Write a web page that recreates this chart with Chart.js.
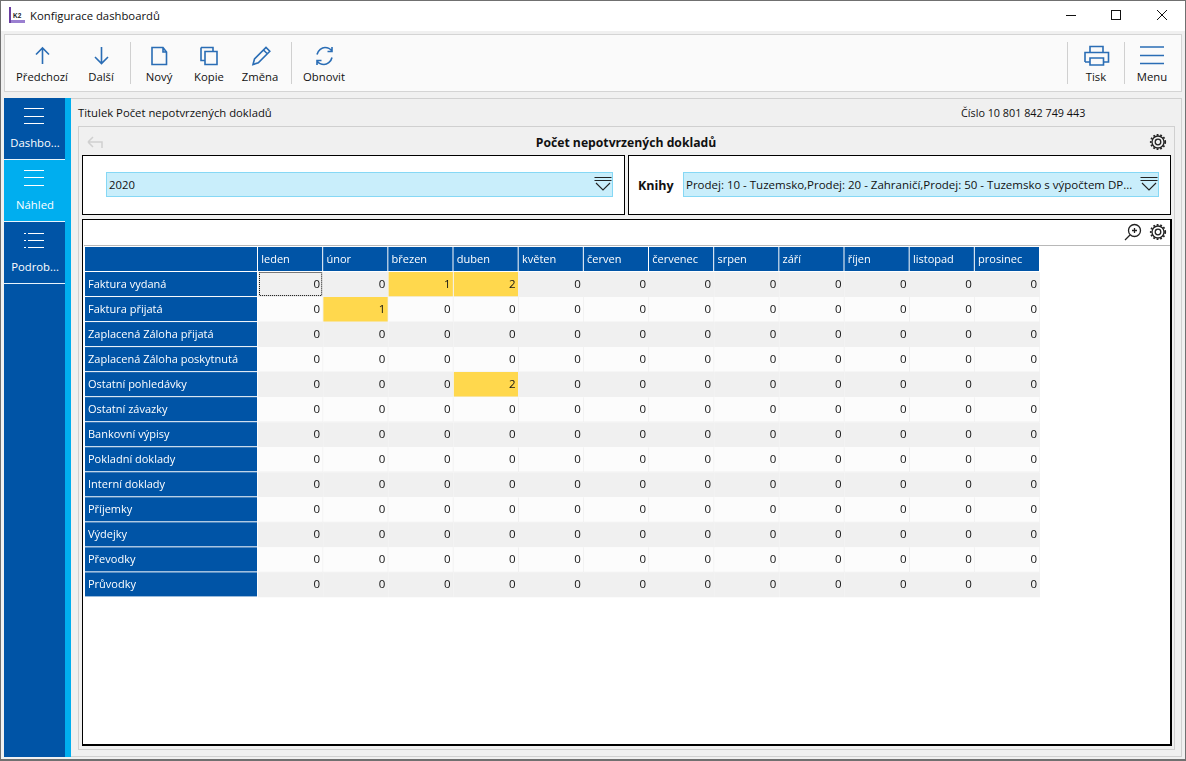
<!DOCTYPE html>
<html lang="cs">
<head>
<meta charset="utf-8">
<title>Konfigurace dashboardů</title>
<script src="https://cdn.jsdelivr.net/npm/chart.js@4"></script>
<style>
* { box-sizing: border-box; }
html, body { margin: 0; padding: 0; }
body { width: 1186px; height: 761px; position: relative; overflow: hidden; background: #f0f0f0; font: 11.3px "Open Sans", sans-serif; color: #111; }
.box, .t, svg, canvas { position: absolute; }
.t { white-space: nowrap; line-height: 16px; }
.c { transform: translateX(-50%); text-align: center; }
.ico { fill: none; stroke: #2a6db5; stroke-width: 1.6; }
.blk { fill: none; stroke: #222; stroke-width: 1.3; }
.wl { background: #fff; height: 1px; width: 20px; left: 24px; position: absolute; }
</style>
</head>
<body>
<div class="box" style="left:0;top:0;width:1186px;height:761px;border:1px solid #707070;border-bottom-width:2px;z-index:9;pointer-events:none"></div>
<div class="box" style="left:1px;top:1px;width:1184px;height:30px;background:#fff"></div>
<svg style="left:9px;top:7px" width="17" height="17"><rect x="0" y="0" width="2" height="16" fill="#6a3fa0"/><rect x="2" y="13" width="14" height="3" fill="#9a7fd0"/><text x="4" y="11" font-size="6.5" font-weight="bold" font-family="Liberation Sans" fill="#222">K2</text></svg>
<div class="t" style="left:30px;top:8px">Konfigurace dashboardů</div>
<svg style="left:1060px;top:5px" width="115" height="22"><path d="M6 10.5H16" stroke="#111" fill="none"/><rect x="51.5" y="5.5" width="9" height="9" stroke="#111" fill="none"/><path d="M97 5l10 10M107 5l-10 10" stroke="#111" fill="none"/></svg>

<!-- toolbar -->
<div class="box" style="left:4px;top:34px;width:1178px;height:58px;background:#fafafa;border:1px solid #d4d4d4"></div>
<div class="box" style="left:130px;top:42px;width:1px;height:42px;background:#d0d0d0"></div>
<div class="box" style="left:291px;top:42px;width:1px;height:42px;background:#d0d0d0"></div>
<div class="box" style="left:1067px;top:42px;width:1px;height:42px;background:#d0d0d0"></div>
<div class="box" style="left:1124px;top:42px;width:1px;height:42px;background:#d0d0d0"></div>
<svg style="left:30px;top:44px" width="340" height="24">
  <path class="ico" d="M12.5 20V4M6 10.5L12.5 4L19 10.5"/>
  <path class="ico" d="M71.5 3V19M65 13L71.5 19.500L78 13"/>
  <path class="ico" d="M122 3.500H133L136.500 8V20.500H122ZM133 3.500V8H136.500"/>
  <path class="ico" d="M171 3.500H183V7M171 3.500V16.500H175M175 7.500H187V20.500H175Z"/>
  <path class="ico" d="M223 20.500L224.500 15L236 3.500L239.800 7.300L228.300 18.800ZM233.500 6L237.300 9.800"/>
  <path class="ico" d="M287 10.500C288 6 292 3.500 295 3.500C298 3.500 300.500 5 302 7M302 3V7.500H297.500M302 13.500C301 18 297 20.500 294 20.500C291 20.500 288.500 19 287 17M287 21V16.500H291.500"/>
</svg>
<svg style="left:1080px;top:44px" width="90" height="24">
  <path class="ico" d="M10 8V2.500H23V8M5 18V8.500H28.500V18H23.500M10 18H5M10 14H23.500V21H10Z"/>
  <path d="M60 3H84M60 11.500H84M60 19.500H84" stroke="#2a6db5" stroke-width="1.700" fill="none"/>
</svg>
<div class="t c" style="left:42px;top:69px">Předchozí</div>
<div class="t c" style="left:101px;top:69px">Další</div>
<div class="t c" style="left:159px;top:69px">Nový</div>
<div class="t c" style="left:209px;top:69px">Kopie</div>
<div class="t c" style="left:260px;top:69px">Změna</div>
<div class="t c" style="left:324px;top:69px">Obnovit</div>
<div class="t c" style="left:1096px;top:69px">Tisk</div>
<div class="t c" style="left:1152px;top:69px">Menu</div>

<!-- sidebar -->
<div class="box" style="left:4px;top:98px;width:61px;height:659px;background:#0054a6"></div>
<div class="box" style="left:65px;top:98px;width:6px;height:659px;background:#00aeef"></div>
<div class="box" style="left:4px;top:160px;width:61px;height:62px;background:#00aeef"></div>
<div class="box" style="left:4px;top:159px;width:61px;height:1px;background:#e8f4fc"></div>
<div class="box" style="left:4px;top:221px;width:61px;height:1px;background:#e8f4fc"></div>
<div class="box" style="left:4px;top:283px;width:61px;height:1px;background:#e8f4fc"></div>
<div class="wl" style="top:108px"></div><div class="wl" style="top:116px"></div><div class="wl" style="top:123px"></div>
<div class="wl" style="top:170px"></div><div class="wl" style="top:177px"></div><div class="wl" style="top:185px"></div>
<div class="wl" style="left:28px;top:233px;width:16px"></div><div class="wl" style="left:28px;top:240px;width:16px"></div><div class="wl" style="left:28px;top:247px;width:16px"></div>
<div class="wl" style="top:233px;width:2px"></div><div class="wl" style="top:240px;width:2px"></div><div class="wl" style="top:247px;width:2px"></div>
<div class="t c" style="left:35px;top:135px;color:#fff">Dashbo...</div>
<div class="t c" style="left:35px;top:197px;color:#fff">Náhled</div>
<div class="t c" style="left:35px;top:259px;color:#fff">Podrob...</div>

<!-- content frames -->
<div class="box" style="left:71px;top:98px;width:1111px;height:659px;border:1px solid #d0d0d0;border-left:0"></div>
<div class="t" style="left:78px;top:105px">Titulek Počet nepotvrzených dokladů</div>
<div class="t" style="left:961px;top:105px;font-size:10.8px">Číslo 10 801 842 749 443</div>
<div class="box" style="left:78px;top:126px;width:1097px;height:624px;border:1px solid #d0d0d0"></div>
<svg style="left:86px;top:134px" width="18" height="16"><path d="M2 8H16V14M2 8L7 3M2 8L7 13" stroke="#d0d0d0" stroke-width="1.500" fill="none"/></svg>
<div class="t c" style="left:626px;top:135px;font-weight:700;font-size:12.2px">Počet nepotvrzených dokladů</div>
<svg style="left:1149px;top:133px" width="18" height="18"><circle class="blk" cx="9" cy="9" r="6"/><circle class="blk" cx="9" cy="9" r="2.800"/><circle cx="9" cy="9" r="7.200" fill="none" stroke="#222" stroke-width="1.800" stroke-dasharray="1.800 1.800"/></svg>

<div class="box" style="left:82px;top:155px;width:543px;height:60px;background:#fff;border:1px solid #000"></div>
<div class="box" style="left:628px;top:155px;width:543px;height:60px;background:#fff;border:1px solid #000"></div>
<div class="box" style="left:106px;top:172px;width:507px;height:25px;background:#c9eefb;border:1px solid #86d8f5"></div>
<div class="t" style="left:109px;top:177px">2020</div>
<svg style="left:593px;top:176px" width="20" height="16"><path d="M1.500 1.500H18.500M1.500 4.500H18.500M3 7L10 14L17 7" stroke="#222" stroke-width="1.100" fill="none"/></svg>
<div class="t" style="left:638px;top:178px;font-weight:700;font-size:12.500px">Knihy</div>
<div class="box" style="left:683px;top:172px;width:476px;height:25px;background:#c9eefb;border:1px solid #86d8f5"></div>
<div class="t" style="left:686px;top:177px;font-size:11.5px">Prodej: 10 - Tuzemsko,Prodej: 20 - Zahraničí,Prodej: 50 - Tuzemsko s výpočtem DP...</div>
<svg style="left:1139px;top:176px" width="20" height="16"><path d="M1.500 1.500H18.500M1.500 4.500H18.500M3 7L10 14L17 7" stroke="#222" stroke-width="1.100" fill="none"/></svg>

<div class="box" style="left:82px;top:219px;width:1090px;height:527px;background:#fff;border:1px solid #000;border-right-width:2px;border-bottom-width:2px"></div>
<div class="box" style="left:84px;top:245px;width:1086px;height:1px;background:#b8b8b8"></div>
<svg style="left:1124px;top:223px" width="18" height="18"><circle class="blk" cx="10.500" cy="7.500" r="6"/><path d="M6 12L1 17M10.500 5V10M8 7.500H13" stroke="#222" stroke-width="1.300" fill="none"/></svg>
<svg style="left:1149px;top:223px" width="18" height="18"><circle class="blk" cx="9" cy="9" r="6"/><circle class="blk" cx="9" cy="9" r="2.800"/><circle cx="9" cy="9" r="7.200" fill="none" stroke="#222" stroke-width="1.800" stroke-dasharray="1.800 1.800"/></svg>

<canvas id="grid" width="960" height="358" style="left:80px;top:246px"></canvas>

<script>
const months = ['leden', 'únor', 'březen', 'duben', 'květen', 'červen', 'červenec', 'srpen', 'září', 'říjen', 'listopad', 'prosinec'];
const documentTypes = ['Faktura vydaná', 'Faktura přijatá', 'Zaplacená Záloha přijatá', 'Zaplacená Záloha poskytnutá', 'Ostatní pohledávky', 'Ostatní závazky', 'Bankovní výpisy', 'Pokladní doklady', 'Interní doklady', 'Příjemky', 'Výdejky', 'Převodky', 'Průvodky'];

const fakturaVydana = [0, 0, 1, 2, 0, 0, 0, 0, 0, 0, 0, 0];
const fakturaPrijata = [0, 1, 0, 0, 0, 0, 0, 0, 0, 0, 0, 0];
const zalohaPrijata = [0, 0, 0, 0, 0, 0, 0, 0, 0, 0, 0, 0];
const zalohaPoskytnuta = [0, 0, 0, 0, 0, 0, 0, 0, 0, 0, 0, 0];
const ostatniPohledavky = [0, 0, 0, 2, 0, 0, 0, 0, 0, 0, 0, 0];
const ostatniZavazky = [0, 0, 0, 0, 0, 0, 0, 0, 0, 0, 0, 0];
const bankovniVypisy = [0, 0, 0, 0, 0, 0, 0, 0, 0, 0, 0, 0];
const pokladniDoklady = [0, 0, 0, 0, 0, 0, 0, 0, 0, 0, 0, 0];
const interniDoklady = [0, 0, 0, 0, 0, 0, 0, 0, 0, 0, 0, 0];
const prijemky = [0, 0, 0, 0, 0, 0, 0, 0, 0, 0, 0, 0];
const vydejky = [0, 0, 0, 0, 0, 0, 0, 0, 0, 0, 0, 0];
const prevodky = [0, 0, 0, 0, 0, 0, 0, 0, 0, 0, 0, 0];
const pruvodky = [0, 0, 0, 0, 0, 0, 0, 0, 0, 0, 0, 0];

const counts = [fakturaVydana, fakturaPrijata, zalohaPrijata, zalohaPoskytnuta, ostatniPohledavky, ostatniZavazky, bankovniVypisy, pokladniDoklady, interniDoklady, prijemky, vydejky, prevodky, pruvodky];

const FONT = { family: '"Open Sans", sans-serif', size: 11 };
const HEADER_BLUE = '#0054a6';

function cellColor(ctx) {
    if (counts[ctx.dataIndex][ctx.datasetIndex] > 0) return '#ffd84d';
    return ctx.dataIndex % 2 === 0 ? '#f0f0f0' : '#fcfcfc';
}

// blue header cells go under the axis labels
const headerCells = {
    id: 'headerCells',
    beforeDraw(chart) {
        const { ctx, scales: { x, y }, chartArea: area } = chart;
        const rowH = y.getPixelForValue(1) - y.getPixelForValue(0);
        ctx.save();
        ctx.fillStyle = HEADER_BLUE;
        ctx.fillRect(5, 1, area.left - 6, area.top - 2);
        months.forEach((m, i) => {
            ctx.fillRect(x.getPixelForValue(i), 1, x.getPixelForValue(i + 1) - x.getPixelForValue(i) - 1, area.top - 2);
        });
        documentTypes.forEach((d, i) => {
            ctx.fillRect(5, y.getPixelForValue(i) - rowH / 2, area.left - 6, rowH - 1);
        });
        ctx.restore();
    }
};

// numbers in the cells and the dotted focus rectangle on the first one
const cellText = {
    id: 'cellText',
    afterDatasetsDraw(chart) {
        const { ctx, scales: { x, y } } = chart;
        ctx.save();
        ctx.font = '11.5px ' + FONT.family;
        ctx.fillStyle = '#111';
        ctx.textAlign = 'right';
        ctx.textBaseline = 'middle';
        counts.forEach((row, r) => {
            row.forEach((v, m) => {
                ctx.fillText(String(v), x.getPixelForValue(m + 1) - 3, y.getPixelForValue(r));
            });
        });
        const rowH = y.getPixelForValue(1) - y.getPixelForValue(0);
        ctx.setLineDash([1, 1]);
        ctx.strokeStyle = '#000';
        ctx.strokeRect(x.getPixelForValue(0) + 1.5, y.getPixelForValue(0) - rowH / 2 + 0.5, x.getPixelForValue(1) - x.getPixelForValue(0) - 3, rowH - 2);
        ctx.restore();
    }
};

new Chart(document.getElementById('grid'), {
    type: 'bar',
    data: {
        labels: documentTypes,
        datasets: months.map((m, col) => ({
            label: m,
            data: documentTypes.map(() => [col, col + 1]),
            backgroundColor: cellColor,
            borderColor: '#f0f0f0',
            borderWidth: { right: 1, bottom: 1 },
            borderSkipped: false,
            grouped: false,
            barPercentage: 1,
            categoryPercentage: 1
        }))
    },
    options: {
        indexAxis: 'y',
        responsive: false,
        animation: false,
        layout: { padding: { left: 8 } },
        plugins: { legend: { display: false }, tooltip: { enabled: false } },
        scales: {
            x: {
                type: 'linear',
                position: 'top',
                min: 0,
                max: 12,
                grid: { display: false, drawTicks: false },
                border: { display: false },
                afterBuildTicks(axis) {
                    axis.ticks = months.map((m, i) => ({ value: i + 0.05 }));
                },
                afterFit(axis) { axis.height = 26; },
                ticks: {
                    autoSkip: false,
                    maxRotation: 0,
                    align: 'start',
                    padding: 6,
                    color: '#fff',
                    font: FONT,
                    callback: value => months[Math.floor(value)]
                }
            },
            y: {
                grid: { display: false, drawTicks: false },
                border: { display: false },
                afterFit(axis) { axis.width = 170; },
                ticks: { crossAlign: 'far', autoSkip: false, color: '#fff', font: FONT, padding: 0 }
            }
        }
    },
    plugins: [headerCells, cellText]
});
</script>
</body>
</html>
